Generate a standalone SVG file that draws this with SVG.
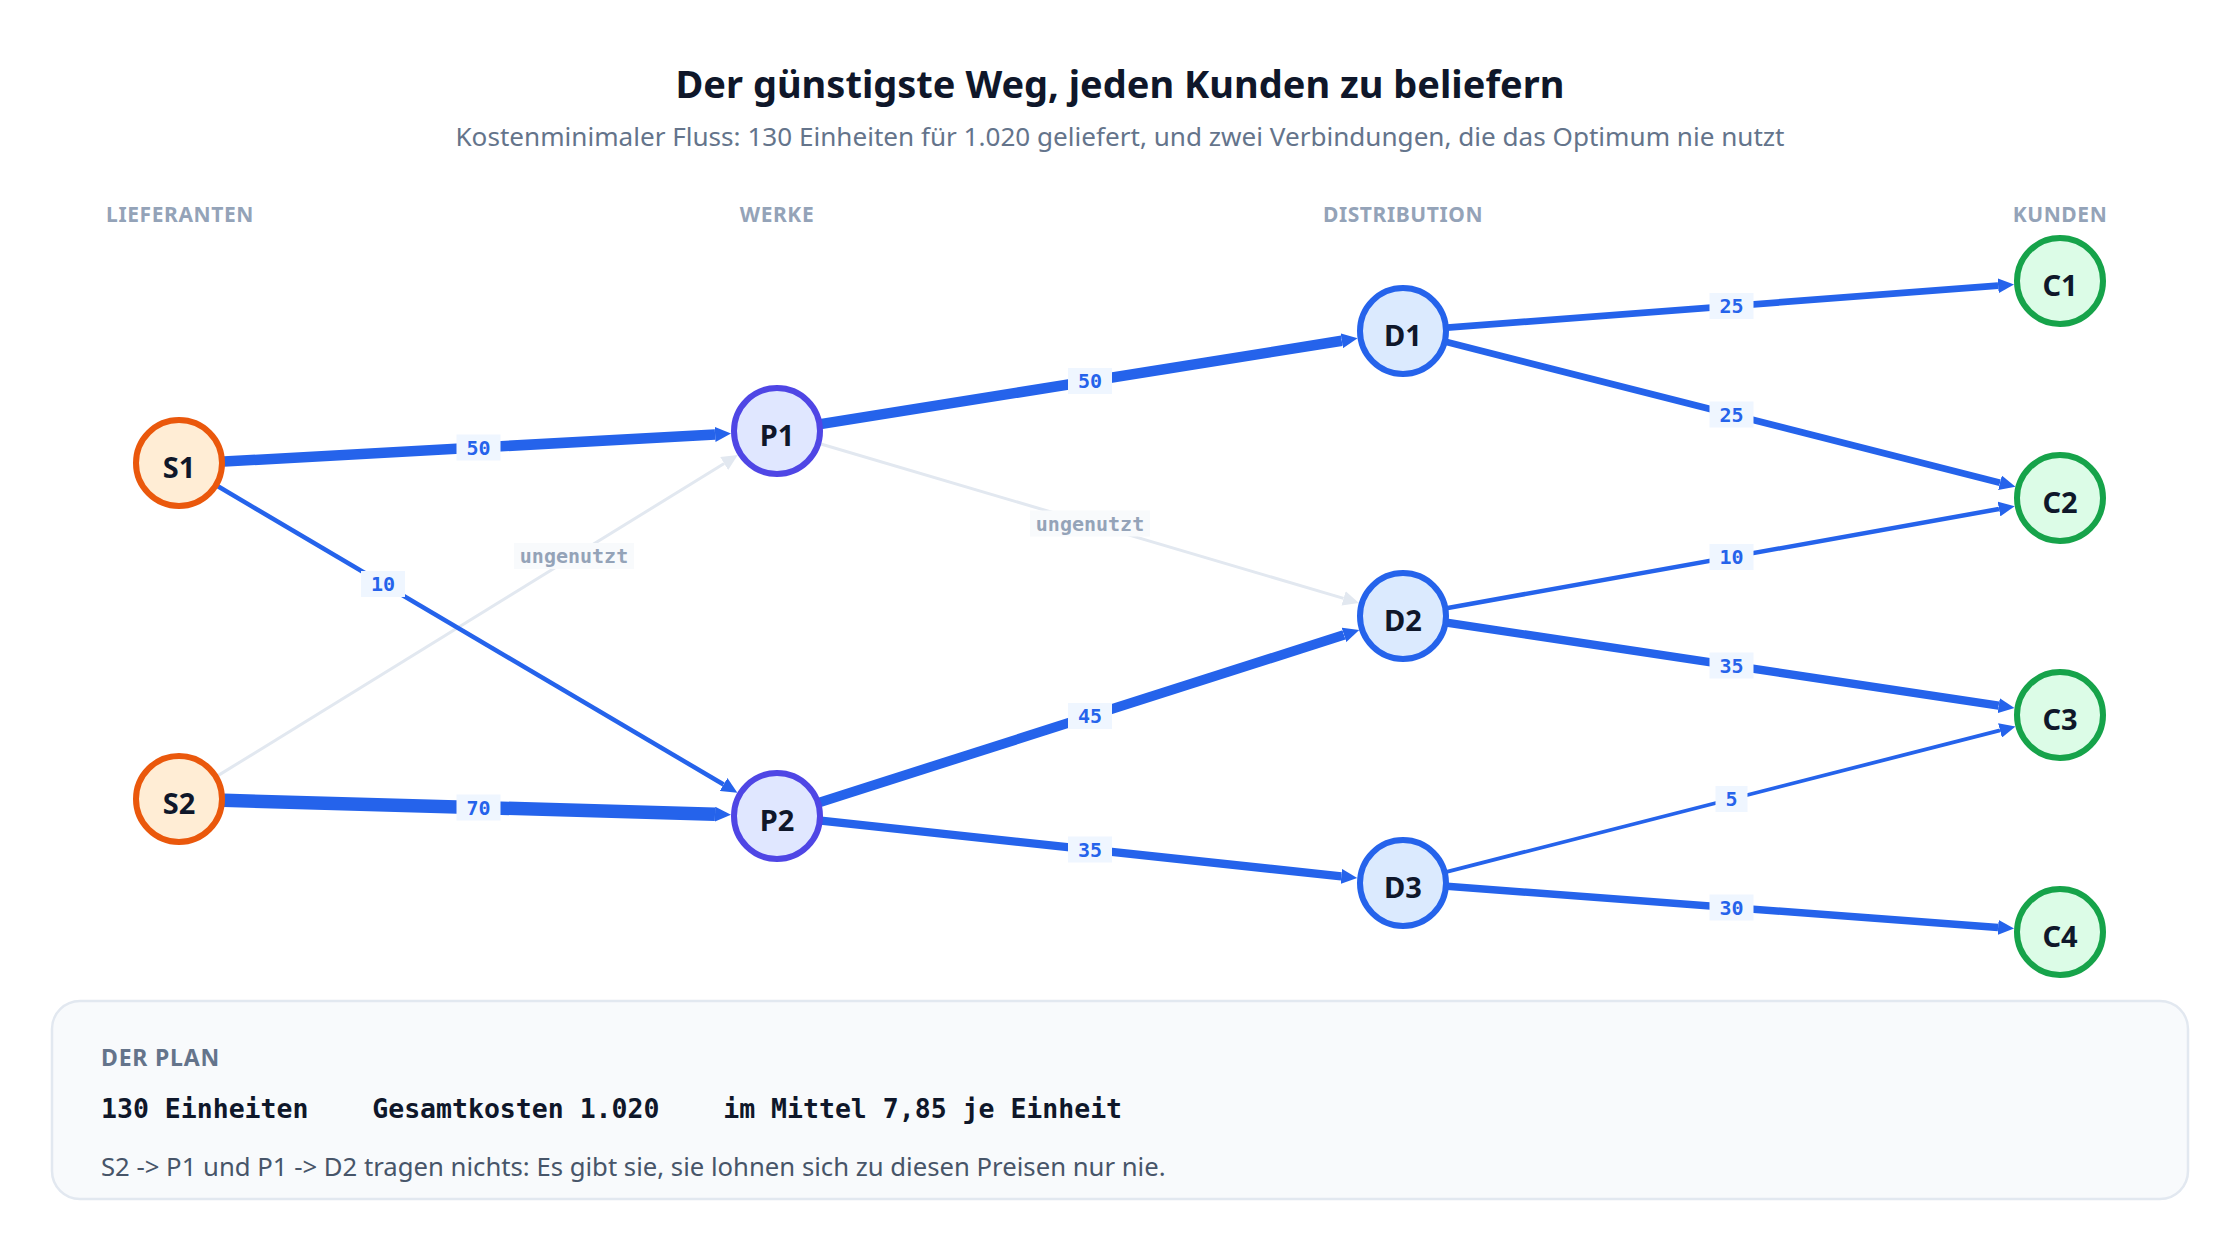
<svg xmlns="http://www.w3.org/2000/svg" width="2240" height="1248" viewBox="0 0 2240 1248">
<defs>
<style>
.title{font-family:"Noto Sans","DejaVu Sans",sans-serif;font-weight:700;font-size:38px;fill:#0f172a;text-anchor:middle}
.sub{font-family:"Noto Sans","DejaVu Sans",sans-serif;font-size:26.1px;fill:#64748b;text-anchor:middle}
.col{font-family:"Noto Sans","DejaVu Sans",sans-serif;font-weight:700;font-size:21px;fill:#94a3b8;text-anchor:middle;letter-spacing:0.6px}
.nl{font-family:"Noto Sans","DejaVu Sans",sans-serif;font-weight:700;font-size:29px;fill:#0f172a;text-anchor:middle}
.s circle{fill:#ffedd5;stroke:#ea580c;stroke-width:6}
.p circle{fill:#e0e7ff;stroke:#4f46e5;stroke-width:6}
.d circle{fill:#dbeafe;stroke:#2563eb;stroke-width:6}
.c circle{fill:#dcfce7;stroke:#16a34a;stroke-width:6}
.e{stroke:#2563eb;fill:none;marker-end:url(#ab)}
.u{stroke:#e2e8f0;stroke-width:3;fill:none;marker-end:url(#ag)}
.lb{fill:#eff6ff}
.lbu{fill:#f8fafc}
.lt{font-family:"DejaVu Sans Mono","Liberation Mono",monospace;font-weight:700;font-size:20px;fill:#2563eb;text-anchor:middle}
.ltu{font-family:"DejaVu Sans Mono","Liberation Mono",monospace;font-weight:700;font-size:20px;fill:#94a3b8;text-anchor:middle}
.ph{font-family:"Noto Sans","DejaVu Sans",sans-serif;font-weight:700;font-size:23px;fill:#64748b;letter-spacing:0.8px}
.pm{font-family:"DejaVu Sans Mono","Liberation Mono",monospace;font-weight:700;font-size:26.5px;fill:#0f172a;white-space:pre}
.pt{font-family:"Noto Sans","DejaVu Sans",sans-serif;font-size:25.7px;fill:#475569}
</style>
<marker id="ab" markerUnits="userSpaceOnUse" markerWidth="16" markerHeight="15" viewBox="0 0 16 15" refX="0" refY="7.5" orient="auto"><path d="M0,0 L16,7.5 L0,15 z" fill="#2563eb"/></marker>
<marker id="ag" markerUnits="userSpaceOnUse" markerWidth="16" markerHeight="15" viewBox="0 0 16 15" refX="0" refY="7.5" orient="auto"><path d="M0,0 L16,7.5 L0,15 z" fill="#e2e8f0"/></marker>
</defs>
<rect width="2240" height="1248" fill="#ffffff"/>
<text class="title" x="1120" y="98">Der günstigste Weg, jeden Kunden zu beliefern</text>
<text class="sub" x="1120" y="146">Kostenminimaler Fluss: 130 Einheiten für 1.020 geliefert, und zwei Verbindungen, die das Optimum nie nutzt</text>
<g id="columns">
<text class="col" x="180" y="222">LIEFERANTEN</text>
<text class="col" x="777" y="222">WERKE</text>
<text class="col" x="1403" y="222">DISTRIBUTION</text>
<text class="col" x="2060" y="222">KUNDEN</text>
</g>
<g id="connectors">
<line class="u" x1="217.5" y1="775.9" x2="724.2" y2="463.5"/>
<line class="u" x1="819.2" y1="443.5" x2="1343.6" y2="598.4"/>
<line class="e" style="stroke-width:10.5" x1="223.9" y1="461.6" x2="715.1" y2="434.4"/>
<line class="e" style="stroke-width:4.5" x1="217.9" y1="486.3" x2="723.6" y2="784.5"/>
<line class="e" style="stroke-width:13.5" x1="224" y1="800.3" x2="715" y2="814.2"/>
<line class="e" style="stroke-width:10.5" x1="820.4" y1="424.1" x2="1341.8" y2="340.8"/>
<line class="e" style="stroke-width:9.75" x1="818.9" y1="802.6" x2="1344.0" y2="634.9"/>
<line class="e" style="stroke-width:8.25" x1="820.8" y1="820.7" x2="1341.3" y2="876.4"/>
<line class="e" style="stroke-width:6.75" x1="1446.9" y1="327.7" x2="1998.1" y2="285.7"/>
<line class="e" style="stroke-width:6.75" x1="1445.6" y1="341.8" x2="2000.0" y2="482.8"/>
<line class="e" style="stroke-width:4.5" x1="1446.3" y1="608.2" x2="1999.0" y2="509.0"/>
<line class="e" style="stroke-width:8.25" x1="1446.5" y1="622.6" x2="1998.7" y2="705.7"/>
<line class="e" style="stroke-width:3.75" x1="1445.6" y1="872.1" x2="2000.0" y2="730.4"/>
<line class="e" style="stroke-width:7.5" x1="1446.9" y1="886.3" x2="1998.1" y2="927.4"/>
<rect class="lb" x="456.5" y="434.5" width="44" height="26"/><text class="lt" x="478.5" y="454.5">50</text>
<rect class="lb" x="361" y="571" width="44" height="26"/><text class="lt" x="383" y="591">10</text>
<rect class="lbu" x="514" y="543" width="120" height="26"/><text class="ltu" x="574" y="563">ungenutzt</text>
<rect class="lb" x="456.5" y="794.5" width="44" height="26"/><text class="lt" x="478.5" y="814.5">70</text>
<rect class="lb" x="1068" y="368" width="44" height="26"/><text class="lt" x="1090" y="388">50</text>
<rect class="lbu" x="1030" y="510.5" width="120" height="26"/><text class="ltu" x="1090" y="530.5">ungenutzt</text>
<rect class="lb" x="1068" y="703" width="44" height="26"/><text class="lt" x="1090" y="723">45</text>
<rect class="lb" x="1068" y="836.5" width="44" height="26"/><text class="lt" x="1090" y="856.5">35</text>
<rect class="lb" x="1709.5" y="293" width="44" height="26"/><text class="lt" x="1731.5" y="313">25</text>
<rect class="lb" x="1709.5" y="401.5" width="44" height="26"/><text class="lt" x="1731.5" y="421.5">25</text>
<rect class="lb" x="1709.5" y="544" width="44" height="26"/><text class="lt" x="1731.5" y="564">10</text>
<rect class="lb" x="1709.5" y="652.5" width="44" height="26"/><text class="lt" x="1731.5" y="672.5">35</text>
<rect class="lb" x="1715.5" y="786" width="32" height="26"/><text class="lt" x="1731.5" y="806">5</text>
<rect class="lb" x="1709.5" y="894.5" width="44" height="26"/><text class="lt" x="1731.5" y="914.5">30</text>
</g>
<g id="S1" class="s"><circle cx="179" cy="463" r="43"/><text class="nl" x="179" y="478">S1</text></g>
<g id="S2" class="s"><circle cx="179" cy="799" r="43"/><text class="nl" x="179" y="814">S2</text></g>
<g id="P1" class="p"><circle cx="777" cy="431" r="43"/><text class="nl" x="777" y="446">P1</text></g>
<g id="P2" class="p"><circle cx="777" cy="816" r="43"/><text class="nl" x="777" y="831">P2</text></g>
<g id="D1" class="d"><circle cx="1403" cy="331" r="43"/><text class="nl" x="1403" y="346">D1</text></g>
<g id="D2" class="d"><circle cx="1403" cy="616" r="43"/><text class="nl" x="1403" y="631">D2</text></g>
<g id="D3" class="d"><circle cx="1403" cy="883" r="43"/><text class="nl" x="1403" y="898">D3</text></g>
<g id="C1" class="c"><circle cx="2060" cy="281" r="43"/><text class="nl" x="2060" y="296">C1</text></g>
<g id="C2" class="c"><circle cx="2060" cy="498" r="43"/><text class="nl" x="2060" y="513">C2</text></g>
<g id="C3" class="c"><circle cx="2060" cy="715" r="43"/><text class="nl" x="2060" y="730">C3</text></g>
<g id="C4" class="c"><circle cx="2060" cy="932" r="43"/><text class="nl" x="2060" y="947">C4</text></g>
<g id="plan">
<rect x="52" y="1001" width="2136" height="198" rx="28" fill="#f8fafc" stroke="#e2e8f0" stroke-width="2.5"/>
<text class="ph" x="101" y="1066">DER PLAN</text>
<text class="pm" x="101" y="1118" xml:space="preserve">130 Einheiten    Gesamtkosten 1.020    im Mittel 7,85 je Einheit</text>
<text class="pt" x="101" y="1176">S2 -&gt; P1 und P1 -&gt; D2 tragen nichts: Es gibt sie, sie lohnen sich zu diesen Preisen nur nie.</text>
</g>
</svg>
